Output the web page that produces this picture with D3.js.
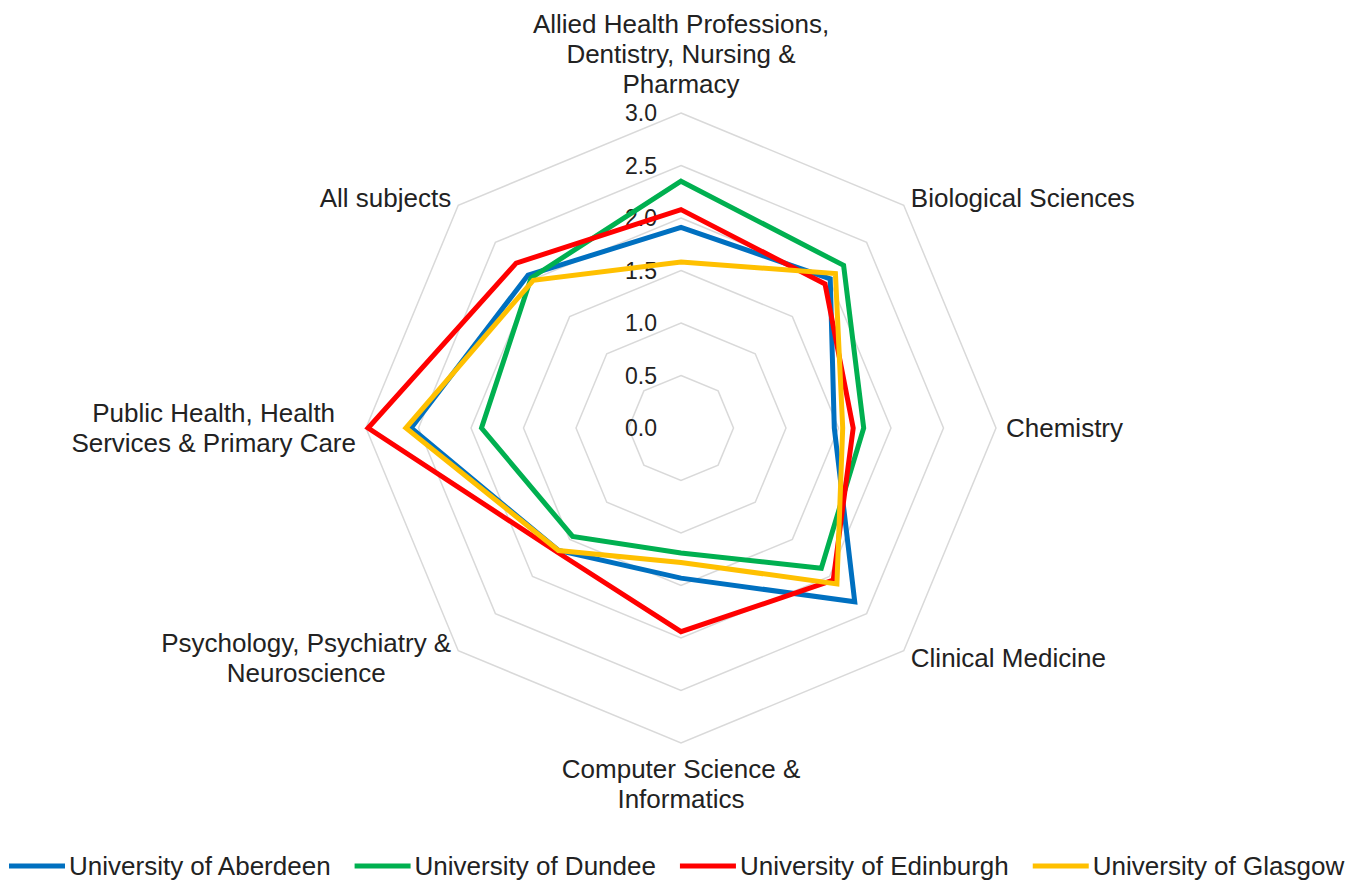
<!DOCTYPE html>
<html>
<head>
<meta charset="utf-8">
<script src="https://cdn.jsdelivr.net/npm/d3@7"></script>
<style>
  body { margin: 0; background: #fff; }
  text { font-family: "Liberation Sans", Arial, sans-serif; fill: #222; }
</style>
</head>
<body>
<svg></svg>
<script>
// categories, clockwise from the top
const categories = [
    ["Allied Health Professions,", "Dentistry, Nursing &", "Pharmacy"],
    ["Biological Sciences"],
    ["Chemistry"],
    ["Clinical Medicine"],
    ["Computer Science &", "Informatics"],
    ["Psychology, Psychiatry &", "Neuroscience"],
    ["Public Health, Health", "Services & Primary Care"],
    ["All subjects"]
];
const seriesNames = ["University of Aberdeen", "University of Dundee", "University of Edinburgh", "University of Glasgow"];
const aberdeen  = [1.91, 2.01, 1.46, 2.34, 1.43, 1.65, 2.57, 2.06];
const dundee    = [2.35, 2.19, 1.74, 1.89, 1.19, 1.46, 1.90, 2.02];
const edinburgh = [2.08, 1.94, 1.64, 2.05, 1.94, 1.67, 2.98, 2.22];
const glasgow   = [1.58, 2.08, 1.54, 2.10, 1.28, 1.65, 2.62, 1.99];
const ticks = [0, 0.5, 1.0, 1.5, 2.0, 2.5, 3.0];
const tickLabels = ["0.0", "0.5", "1.0", "1.5", "2.0", "2.5", "3.0"];
const colors = ["#0070C0", "#00B050", "#FF0000", "#FFC000"];

const width = 1349;
const height = 883;
const cx = 681;
const cy = 428;
const R = 315;

let svg = d3.select("svg")
    .attr("width", width)
    .attr("height", height);

const allSeries = [aberdeen, dundee, edinburgh, glasgow];

const scR = d3.scaleLinear().domain([0, 3]).range([0, R]);
const angle = d3.scaleLinear().domain([0, categories.length]).range([0, 2 * Math.PI]);

let g = svg.append("g").attr("transform", `translate(${cx}, ${cy})`);

// octagon gridlines
const radial = d3.lineRadial()
    .angle((d, i) => angle(i))
    .radius(d => scR(d))
    .curve(d3.curveLinearClosed);

g.selectAll(".grid")
    .data(ticks.slice(1))
    .enter()
    .append("path")
    .attr("d", t => radial(categories.map(() => t)))
    .style("fill", "none")
    .style("stroke", "#d9d9d9")
    .style("stroke-width", 1.5);

// tick labels along the top axis
g.selectAll(".tick")
    .data(ticks)
    .enter()
    .append("text")
    .attr("x", -24)
    .attr("y", t => -scR(t))
    .attr("dy", "0.35em")
    .style("text-anchor", "end")
    .style("font-size", "23px")
    .text((t, i) => tickLabels[i]);

// series
allSeries.forEach((vals, k) => {
    g.append("path")
        .attr("d", radial(vals))
        .style("fill", "none")
        .style("stroke", colors[k])
        .style("stroke-width", 5)
        .style("stroke-linejoin", "miter");
});

// category labels
const fs = 26;
const lh = 30;
categories.forEach((lines, i) => {
    const a = angle(i);
    const dx = Math.sin(a), dy = -Math.cos(a);
    const px = (R + 10) * dx, py = (R + 10) * dy;
    let t = g.append("text").style("font-size", fs + "px");
    let spans = lines.map(l => t.append("tspan").text(l));
    const widths = spans.map(s => s.node().getComputedTextLength());
    const w = d3.max(widths);
    let boxCx;
    if (dx > 0.1) boxCx = px + w / 2;
    else if (dx < -0.1) boxCx = px - w / 2;
    else boxCx = px;
    let firstBase;
    if (Math.abs(dx) > 0.1) {
        firstBase = py - (lines.length - 1) * lh / 2 + fs * 0.35;
    } else if (dy < 0) {
        firstBase = py - 10 - (lines.length - 1) * lh;
    } else {
        firstBase = py + fs * 0.95;
    }
    spans.forEach((s, j) => {
        s.attr("x", boxCx)
         .attr("y", firstBase + j * lh)
         .style("text-anchor", "middle");
    });
});

// legend
let legend = svg.append("g");
let lx = 9;
const ly = 866;
seriesNames.forEach((name, k) => {
    legend.append("line")
        .attr("x1", lx).attr("x2", lx + 56)
        .attr("y1", ly).attr("y2", ly)
        .style("stroke", colors[k])
        .style("stroke-width", 5);
    let t = legend.append("text")
        .attr("x", lx + 60)
        .attr("y", ly)
        .attr("dy", "0.35em")
        .style("font-size", "26px")
        .text(name);
    lx += 60 + t.node().getComputedTextLength() + 24;
});
</script>
</body>
</html>
